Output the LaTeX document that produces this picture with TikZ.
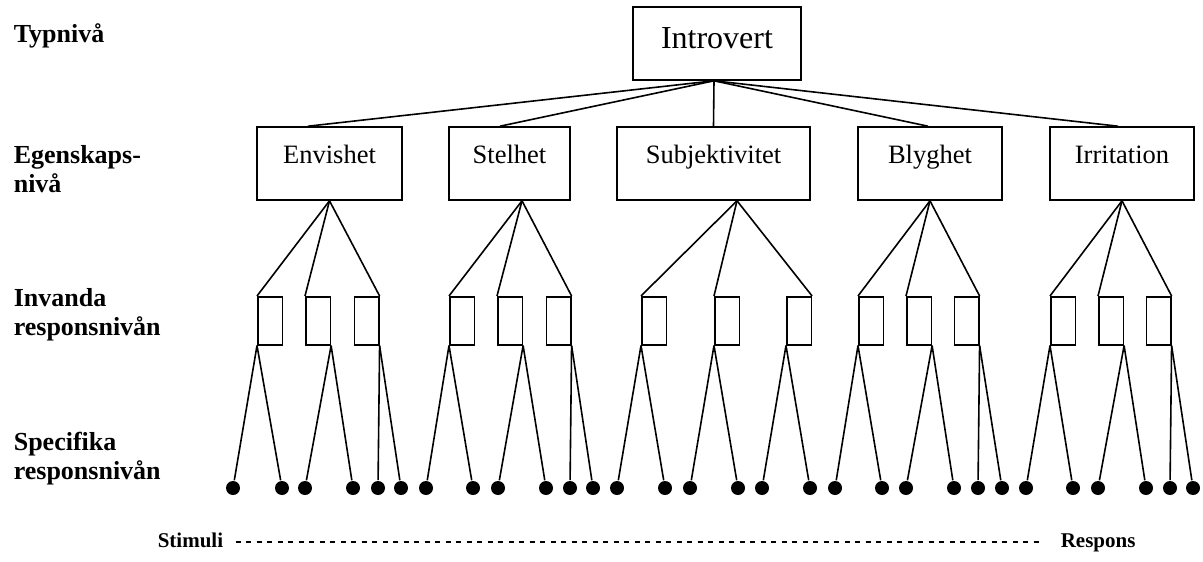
\documentclass[tikz,border=0pt]{standalone}
\usepackage{fontspec}
\setmainfont{Liberation Serif}
\tikzset{
  typebox/.style={draw, inner sep=0pt, anchor=base, minimum width=168pt,
    text height=41pt, text depth=32pt, font=\fontsize{32}{36}\selectfont},
  traitbox/.style={draw, inner sep=0pt, anchor=base,
    text height=36pt, text depth=37pt, font=\fontsize{26.5}{30}\selectfont},
  habitbox/.style={draw, inner sep=0pt, anchor=north west,
    minimum width=24.5pt, minimum height=48pt},
  respdot/.style={circle, fill, inner sep=0pt, minimum size=14pt},
  levellabel/.style={anchor=base west, align=left, inner sep=0pt,
    font=\bfseries\fontsize{26}{29}\selectfont},
  axislabel/.style={inner sep=0pt, text height=15pt, text depth=5pt,
    font=\bfseries\fontsize{21}{24}\selectfont},
}
\newcommand{\habits}[4]{
    \node[habitbox] (#1a) at (#2,296) {};
    \node[habitbox] (#1b) at (#3,296) {};
    \node[habitbox] (#1c) at (#4,296) {};
}
\newcommand{\fanout}[2]{
    \draw (#1) -- (#2a.north west);
    \draw (#1) -- (#2b.north west);
    \draw (#1) -- (#2c.north east);
}
\newcommand{\specDots}[7]{
    \node[respdot] (#11) at (#2,488) {};
    \node[respdot] (#12) at (#3,488) {};
    \node[respdot] (#13) at (#4,488) {};
    \node[respdot] (#14) at (#5,488) {};
    \node[respdot] (#15) at (#6,488) {};
    \node[respdot] (#16) at (#7,488) {};
}
\newcommand{\twoDots}[3]{
    \draw (#1) -- (#2);
    \draw (#1) -- (#3);
}
\begin{document}
\begin{tikzpicture}[x=1pt, y=-1pt, line width=1.6pt]
    \useasboundingbox (0,0) rectangle (1203,562);

    % level labels (base = last line)
    \node[levellabel] (lvtype)  at (13,42)  {Typnivå};
    \node[levellabel] (lvtrait) at (13,192) {Egenskaps-\\nivå};
    \node[levellabel] (lvhabit) at (13,335) {Invanda\\responsnivån};
    \node[levellabel] (lvspec)  at (13,479) {Specifika\\responsnivån};

    % type and traits
    \node[typebox] (intro) at (717,48) {Introvert};
    \node[traitbox, minimum width=145pt] (env)  at (329.5,163) {Envishet};
    \node[traitbox, minimum width=121pt] (stel) at (509.5,163) {Stelhet};
    \node[traitbox, minimum width=193pt] (subj) at (713.5,163) {Subjektivitet};
    \node[traitbox, minimum width=144pt] (bly)  at (930,163)   {Blyghet};
    \node[traitbox, minimum width=144pt] (irr)  at (1122,163)  {Irritation};

    \draw ([xshift=-3pt]intro.south) -- ([xshift=-21.5pt]env.north);
    \draw ([xshift=-3pt]intro.south) -- ([xshift=-9.5pt]stel.north);
    \draw ([xshift=-3pt]intro.south) -- (subj.north);
    \draw ([xshift=-3pt]intro.south) -- ([xshift=-2pt]bly.north);
    \draw ([xshift=-3pt]intro.south) -- ([xshift=-4pt]irr.north);

    % habitual responses
    \habits{env}{257}{305}{353.5}
    \habits{stel}{449}{497}{545.5}
    \habits{subj}{641}{714}{786}
    \habits{bly}{858}{906}{953.5}
    \habits{irr}{1050}{1098}{1145.5}

    \fanout{env.south}{env}
    \fanout{[xshift=12.5pt]stel.south}{stel}
    \fanout{[xshift=23.5pt]subj.south}{subj}
    \fanout{bly.south}{bly}
    \fanout{irr.south}{irr}

    % specific responses
    \specDots{env}{233}{282}{305}{353}{378}{401}
    \specDots{stel}{426}{473}{498}{546}{570}{593}
    \specDots{subj}{617}{665}{690}{738}{762}{810}
    \specDots{bly}{835}{882}{906}{954}{978}{1002}
    \specDots{irr}{1026}{1073}{1098}{1146}{1170}{1193}

    \twoDots{enva.south west}{env1}{env2}
    \twoDots{envb.south east}{env3}{env4}
    \twoDots{envc.south east}{env5}{env6}
    \twoDots{stela.south west}{stel1}{stel2}
    \twoDots{stelb.south east}{stel3}{stel4}
    \twoDots{stelc.south east}{stel5}{stel6}
    \twoDots{subja.south west}{subj1}{subj2}
    \twoDots{subjb.south west}{subj3}{subj4}
    \twoDots{subjc.south west}{subj5}{subj6}
    \twoDots{blya.south west}{bly1}{bly2}
    \twoDots{blyb.south east}{bly3}{bly4}
    \twoDots{blyc.south east}{bly5}{bly6}
    \twoDots{irra.south west}{irr1}{irr2}
    \twoDots{irrb.south east}{irr3}{irr4}
    \twoDots{irrc.south east}{irr5}{irr6}

    % stimulus - response axis
    \node[axislabel, anchor=base west] (stim)    at (157,547)  {Stimuli};
    \node[axislabel, anchor=base west] (respons) at (1060,547) {Respons};
    \draw[line width=1.1pt, dash pattern=on 5pt off 5.5pt, shorten <=12pt, shorten >=18pt]
        (stim.east) -- (respons.west);
\end{tikzpicture}
\end{document}
